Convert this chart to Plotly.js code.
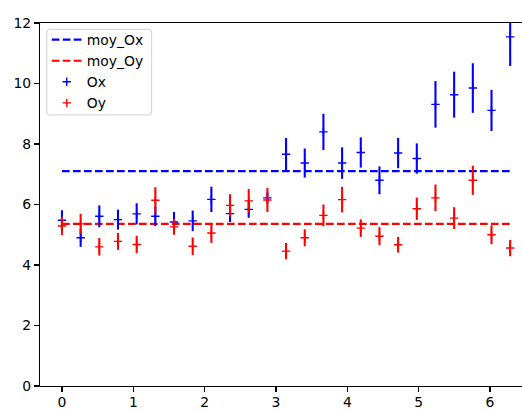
<!DOCTYPE html>
<html>
<head>
<meta charset="utf-8">
<script src="https://cdn.plot.ly/plotly-3.0.1.min.js"></script>
<style>html,body{margin:0;padding:0;background:#fff;}#chart{width:522px;height:410px;}</style>
</head>
<body>
<div id="chart"></div>
<script>
// x positions: 25 samples from 0 to 2*pi (step pi/12)
const xIndex = [0,1,2,3,4,5,6,7,8,9,10,11,12,13,14,15,16,17,18,19,20,21,22,23,24];
const xValues = xIndex.map(i => i * Math.PI / 12);

const oxValues = [5.48, 4.90, 5.61, 5.50, 5.69, 5.61, 5.42, 5.46, 6.17, 5.70, 5.84, 6.22,
                  7.66, 7.37, 8.40, 7.37, 7.72, 6.80, 7.70, 7.52, 9.31, 9.63, 9.85, 9.11, 11.54];
const oxErrors = [0.33, 0.30, 0.36, 0.33, 0.35, 0.32, 0.33, 0.34, 0.42, 0.28, 0.28, 0.18,
                  0.54, 0.48, 0.60, 0.52, 0.50, 0.46, 0.50, 0.50, 0.77, 0.76, 0.82, 0.68, 0.96];

const oyValues = [5.29, 5.36, 4.60, 4.78, 4.68, 6.14, 5.26, 4.62, 5.06, 5.97, 6.12, 6.15,
                  4.46, 4.90, 5.64, 6.16, 5.22, 4.95, 4.67, 5.86, 6.22, 5.55, 6.80, 5.00, 4.56];
const oyErrors = [0.30, 0.33, 0.29, 0.28, 0.29, 0.43, 0.26, 0.29, 0.33, 0.37, 0.39, 0.40,
                  0.27, 0.28, 0.36, 0.42, 0.29, 0.30, 0.26, 0.37, 0.44, 0.36, 0.48, 0.31, 0.27];

const seriesNames = ['moy_Ox', 'moy_Oy', 'Ox', 'Oy'];
const xTicks = [0, 1, 2, 3, 4, 5, 6];
const yTicks = [0, 2, 4, 6, 8, 10, 12];

const mean = a => a.reduce((s, v) => s + v, 0) / a.length;
const moyOx = mean(oxValues);
const moyOy = mean(oyValues);

const dash = '7.7px,3.3px';
const traces = [
  {x: xValues, y: xValues.map(() => moyOx), name: seriesNames[0], type: 'scatter', mode: 'lines',
   line: {color: '#0000ff', width: 2.1, dash: dash}},
  {x: xValues, y: xValues.map(() => moyOy), name: seriesNames[1], type: 'scatter', mode: 'lines',
   line: {color: '#ff0000', width: 2.1, dash: dash}},
  {x: xValues, y: oxValues, name: seriesNames[2], type: 'scatter', mode: 'markers',
   marker: {symbol: 'cross-thin', size: 6, color: '#0000ff', line: {color: '#0000ff', width: 1.4}},
   error_y: {type: 'data', array: oxErrors, visible: true, color: '#0000ff', thickness: 2.1, width: 0}},
  {x: xValues, y: oyValues, name: seriesNames[3], type: 'scatter', mode: 'markers',
   marker: {symbol: 'cross-thin', size: 6, color: '#ff0000', line: {color: '#ff0000', width: 1.4}},
   error_y: {type: 'data', array: oyErrors, visible: true, color: '#ff0000', thickness: 2.1, width: 0}}
];

// legend frame (rounded rectangle) in paper coordinates
const fx0 = 0.0139, fx1 = 0.2317, fy0 = 0.7466, fy1 = 0.9826, rx = 0.0062, ry = 0.0083;
const framePath = `M ${fx0+rx},${fy1} L ${fx1-rx},${fy1} Q ${fx1},${fy1} ${fx1},${fy1-ry} ` +
  `L ${fx1},${fy0+ry} Q ${fx1},${fy0} ${fx1-rx},${fy0} L ${fx0+rx},${fy0} Q ${fx0},${fy0} ${fx0},${fy0+ry} ` +
  `L ${fx0},${fy1-ry} Q ${fx0},${fy1} ${fx0+rx},${fy1} Z`;

const font = {family: 'DejaVu Sans', size: 13.9, color: '#000'};
const layout = {
  width: 522, height: 410,
  margin: {l: 40, r: 0, t: 23, b: 24, pad: 0},
  paper_bgcolor: '#fff', plot_bgcolor: '#fff',
  font: font,
  showlegend: true,
  legend: {x: 0.014, y: 0.997, xanchor: 'left', yanchor: 'top', bgcolor: 'rgba(0,0,0,0)',
           borderwidth: 0, font: font, tracegroupgap: 0},
  shapes: [{type: 'path', xref: 'paper', yref: 'paper', path: framePath, layer: 'above',
            fillcolor: 'rgba(255,255,255,0.8)', line: {color: '#d0d0d0', width: 1}}],
  xaxis: {range: [-0.308, 6.449], tickvals: xTicks, ticktext: xTicks.map(String),
          showgrid: false, zeroline: false, showline: true, linecolor: '#000', linewidth: 1.1,
          mirror: true, ticks: 'outside', ticklen: 5, tickwidth: 1.1, tickcolor: '#000', tickfont: font,
          ticklabelstandoff: -2},
  yaxis: {range: [0, 12], tickvals: yTicks, ticktext: yTicks.map(String),
          showgrid: false, zeroline: false, showline: true, linecolor: '#000', linewidth: 1.1,
          ticks: 'outside', ticklen: 5, tickwidth: 1.1, tickcolor: '#000', tickfont: font}
};

Plotly.newPlot('chart', traces, layout, {displayModeBar: false, staticPlot: true});
</script>
</body>
</html>
